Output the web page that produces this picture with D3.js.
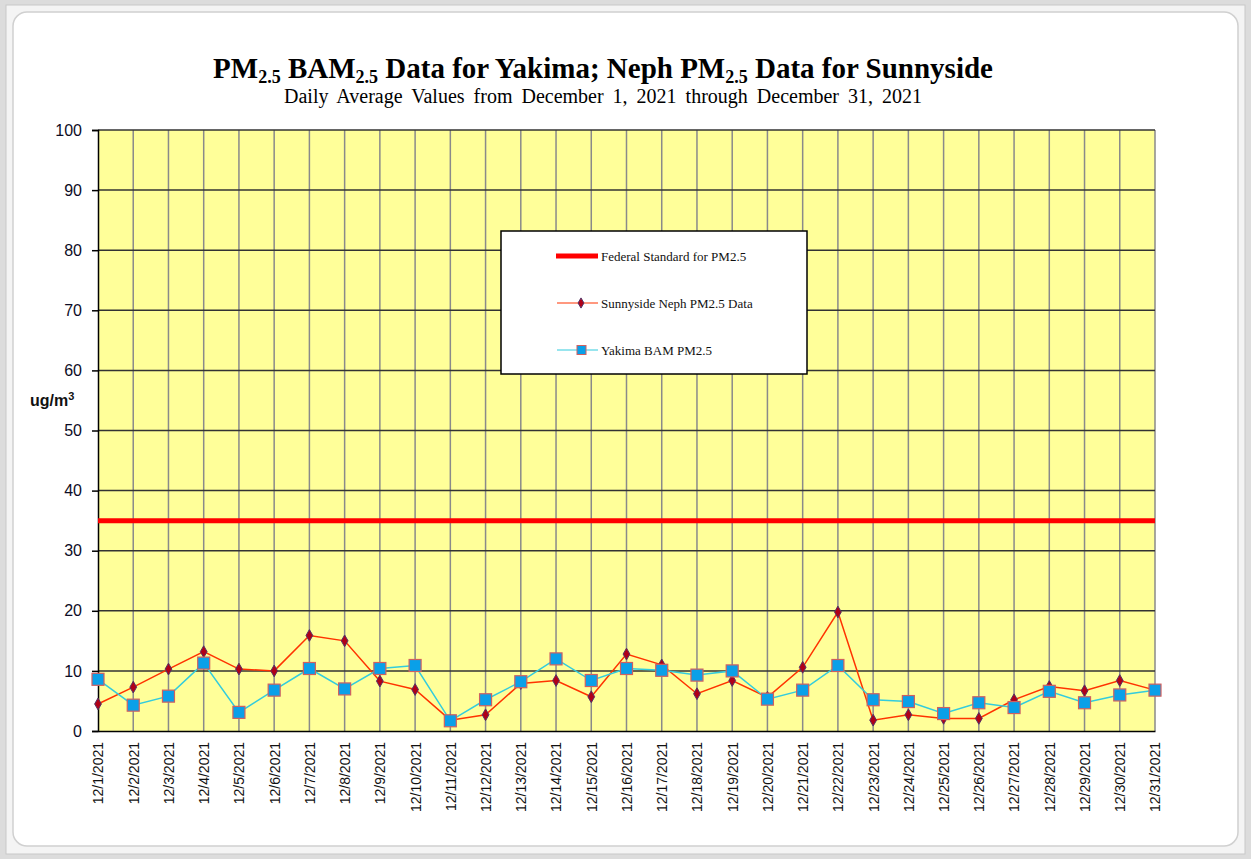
<!DOCTYPE html>
<html>
<head>
<meta charset="utf-8">
<script src="https://cdn.jsdelivr.net/npm/d3@7"></script>
<style>
  body { margin: 0; background: #dcdcdc; }
  svg { display: block; }
</style>
</head>
<body>
<div id="chart"></div>
<script>
// data
var days = ["12/1/2021","12/2/2021","12/3/2021","12/4/2021","12/5/2021","12/6/2021","12/7/2021",
  "12/8/2021","12/9/2021","12/10/2021","12/11/2021","12/12/2021","12/13/2021","12/14/2021",
  "12/15/2021","12/16/2021","12/17/2021","12/18/2021","12/19/2021","12/20/2021","12/21/2021",
  "12/22/2021","12/23/2021","12/24/2021","12/25/2021","12/26/2021","12/27/2021","12/28/2021",
  "12/29/2021","12/30/2021","12/31/2021"];
var sunnyside = [4.5, 7.3, 10.3, 13.2, 10.3, 10.0, 15.9, 15.0, 8.3, 6.9, 1.8, 2.7, 7.9, 8.4, 5.7,
  12.8, 11.0, 6.2, 8.4, 5.6, 10.6, 19.8, 1.8, 2.7, 2.1, 2.1, 5.2, 7.4, 6.7, 8.4, 6.8];
var yakima = [8.6, 4.3, 5.8, 11.3, 3.1, 6.8, 10.4, 7.0, 10.4, 10.9, 1.7, 5.2, 8.2, 12.0, 8.4,
  10.4, 10.1, 9.3, 10.0, 5.3, 6.8, 10.9, 5.2, 4.9, 2.9, 4.7, 3.9, 6.6, 4.7, 6.0, 6.8];
var standard = 35;
var yTicks = [0, 10, 20, 30, 40, 50, 60, 70, 80, 90, 100];
var legendNames = ["Federal Standard for PM2.5", "Sunnyside Neph PM2.5 Data", "Yakima BAM PM2.5"];

var W = 1251, H = 859;
var m = {left: 98, right: 96, top: 130, bottom: 128};

var svg = d3.select('#chart').append('svg')
  .attr('width', W).attr('height', H);

// window frame
svg.append('rect').attr('x', 6).attr('y', 5).attr('width', W - 12).attr('height', H - 10)
  .attr('fill', '#f4f4f4').attr('stroke', '#c8c8c8');
svg.append('rect').attr('x', 13).attr('y', 12).attr('width', W - 26).attr('height', H - 25)
  .attr('rx', 14).attr('fill', '#fff').attr('stroke', '#d0d0d0').attr('stroke-width', 1.5);

var x = d3.scalePoint().domain(days).range([m.left, W - m.right]);
var y = d3.scaleLinear().domain([0, 100]).range([H - m.bottom, m.top]);

// plot background
svg.append('rect')
  .attr('x', m.left).attr('y', y(100))
  .attr('width', x(days[days.length - 1]) - m.left).attr('height', y(0) - y(100))
  .attr('fill', '#ffff99');

// vertical grid
svg.append('g').selectAll('line').data(days.slice(1)).enter().append('line')
  .attr('x1', function(d){ return x(d); }).attr('x2', function(d){ return x(d); })
  .attr('y1', y(100)).attr('y2', y(0))
  .attr('stroke', '#8a8a8a').attr('stroke-width', 1.5);

// horizontal grid
svg.append('g').selectAll('line').data(yTicks.slice(1)).enter().append('line')
  .attr('x1', m.left).attr('x2', x(days[days.length - 1]))
  .attr('y1', function(d){ return y(d); }).attr('y2', function(d){ return y(d); })
  .attr('stroke', '#333').attr('stroke-width', 1.5);

// y axis
var yAxis = svg.append('g')
  .attr('transform', 'translate(' + m.left + ',0)')
  .call(d3.axisLeft(y).tickValues(yTicks).tickSize(6).tickPadding(10));
yAxis.select('.domain').attr('stroke', '#000').attr('stroke-width', 1.5);
yAxis.selectAll('.tick line').attr('stroke', '#000').attr('stroke-width', 1.5);
yAxis.selectAll('.tick text')
  .attr('font-family', 'Liberation Sans, Arial, sans-serif')
  .attr('font-size', 16).attr('fill', '#0d0d26');

// x axis
var xAxis = svg.append('g')
  .attr('transform', 'translate(0,' + y(0) + ')')
  .call(d3.axisBottom(x).tickSize(0).tickPadding(0));
xAxis.select('.domain').attr('stroke', '#000').attr('stroke-width', 1.5);
xAxis.selectAll('.tick text')
  .attr('font-family', 'Liberation Sans, Arial, sans-serif')
  .attr('font-size', 14).attr('fill', '#111')
  .attr('transform', 'rotate(-90)')
  .attr('x', -11).attr('y', 0).attr('dy', '0.35em')
  .style('text-anchor', 'end');

// y axis title
var yt = svg.append('text').attr('x', 30).attr('y', 406)
  .attr('font-family', 'Liberation Sans, Arial, sans-serif')
  .attr('font-size', 16).attr('font-weight', 'bold').attr('fill', '#111');
yt.append('tspan').text('ug/m');
yt.append('tspan').attr('dy', -6).attr('font-size', 11).text('3');

// federal standard
svg.append('line')
  .attr('x1', m.left).attr('x2', x(days[days.length - 1]))
  .attr('y1', y(standard)).attr('y2', y(standard))
  .attr('stroke', '#ff0000').attr('stroke-width', 5);

var line = d3.line()
  .x(function(d, i){ return x(days[i]); })
  .y(function(d){ return y(d); });

// Sunnyside
svg.append('path').datum(sunnyside).attr('d', line)
  .attr('fill', 'none').attr('stroke', '#ff3300').attr('stroke-width', 1.5);
svg.append('g').selectAll('path').data(sunnyside).enter().append('path')
  .attr('d', d3.symbol().type(d3.symbolDiamond).size(40))
  .attr('transform', function(d, i){ return 'translate(' + x(days[i]) + ',' + y(d) + ')'; })
  .attr('fill', '#b00018').attr('stroke', '#553366').attr('stroke-width', 1);

// Yakima
svg.append('path').datum(yakima).attr('d', line)
  .attr('fill', 'none').attr('stroke', '#33ccdd').attr('stroke-width', 1.5);
svg.append('g').selectAll('rect').data(yakima).enter().append('rect')
  .attr('x', function(d, i){ return x(days[i]) - 6; })
  .attr('y', function(d){ return y(d) - 6; })
  .attr('width', 12).attr('height', 12)
  .attr('fill', '#0aa0e8').attr('stroke', '#d06060').attr('stroke-width', 1.2);

// legend
var lg = svg.append('g').attr('transform', 'translate(501,231)');
lg.append('rect').attr('width', 306).attr('height', 143)
  .attr('fill', '#fff').attr('stroke', '#000').attr('stroke-width', 1.5);
var ly = [25, 72, 119];
lg.append('line').attr('x1', 55).attr('x2', 97).attr('y1', ly[0]).attr('y2', ly[0])
  .attr('stroke', '#ff0000').attr('stroke-width', 5);
lg.append('line').attr('x1', 56).attr('x2', 97).attr('y1', ly[1]).attr('y2', ly[1])
  .attr('stroke', '#ff3300').attr('stroke-width', 1.2);
lg.append('path').attr('d', d3.symbol().type(d3.symbolDiamond).size(30))
  .attr('transform', 'translate(80,' + ly[1] + ')')
  .attr('fill', '#b00018').attr('stroke', '#553366');
lg.append('line').attr('x1', 56).attr('x2', 97).attr('y1', ly[2]).attr('y2', ly[2])
  .attr('stroke', '#33ccdd').attr('stroke-width', 1.2);
lg.append('rect').attr('x', 76).attr('y', ly[2] - 4.5).attr('width', 9).attr('height', 9)
  .attr('fill', '#0aa0e8').attr('stroke', '#d06060');
lg.selectAll('text.lab').data(legendNames).enter().append('text')
  .attr('class', 'lab')
  .attr('x', 100).attr('y', function(d, i){ return ly[i]; }).attr('dy', '0.35em')
  .attr('font-family', 'Liberation Serif, Times New Roman, serif')
  .attr('font-size', 13).attr('fill', '#111')
  .text(function(d){ return d; });

// titles
var titleParts = [["PM", 0], ["2.5", 5], [" BAM", -5], ["2.5", 5],
  [" Data for Yakima; Neph PM", -5], ["2.5", 5], [" Data for Sunnyside", -5]];
var t = svg.append('text').attr('x', 603).attr('y', 78).attr('text-anchor', 'middle')
  .attr('font-family', 'Liberation Serif, Times New Roman, serif')
  .attr('font-size', 29).attr('font-weight', 'bold').attr('fill', '#000');
t.selectAll('tspan').data(titleParts).enter().append('tspan')
  .attr('dy', function(d){ return d[1]; })
  .attr('font-size', function(d){ return d[1] > 0 ? 18 : 29; })
  .text(function(d){ return d[0]; });
svg.append('text').attr('x', 603).attr('y', 103).attr('text-anchor', 'middle')
  .attr('font-family', 'Liberation Serif, Times New Roman, serif')
  .attr('font-size', 20).attr('fill', '#000')
  .attr('word-spacing', 4)
  .text('Daily Average Values from December 1, 2021 through December 31, 2021');
</script>
</body>
</html>
